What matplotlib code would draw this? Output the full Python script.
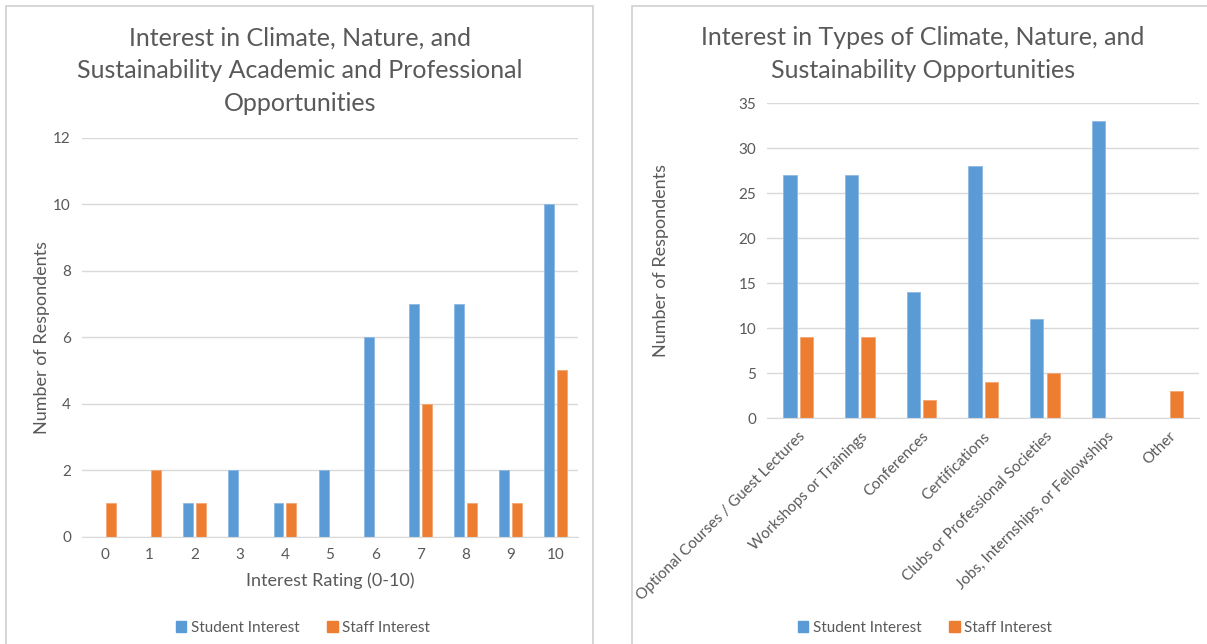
import numpy as np
import matplotlib.pyplot as plt
from matplotlib.patches import Rectangle, Patch

# Survey counts ------------------------------------------------------------
ratings = [str(i) for i in range(11)]
student_rating = [0, 0, 1, 2, 1, 2, 6, 7, 7, 2, 10]
staff_rating = [1, 2, 1, 0, 1, 0, 0, 4, 1, 1, 5]

opportunities = ["Optional Courses / Guest Lectures", "Workshops or Trainings",
                 "Conferences", "Certifications", "Clubs or Professional Societies",
                 "Jobs, Internships, or Fellowships", "Other"]
student_type = [27, 27, 14, 28, 11, 33, 0]
staff_type = [9, 9, 2, 4, 5, 0, 3]
# ---------------------------------------------------------------------------

BLUE = "#5B9BD5"
ORANGE = "#ED7D31"
TXT = "#595959"
GRID = "#D9D9D9"

plt.rcParams['font.family'] = ['Lato', 'DejaVu Sans']

W, H = 1207, 644
fig = plt.figure(figsize=(W / 100, H / 100), dpi=100)

def px(x0, y0, x1, y1):
    # pixel box (top-left origin) -> figure fraction rect
    return [x0 / W, 1 - y1 / H, (x1 - x0) / W, (y1 - y0) / H]

# chart frames
for x0, x1 in [(6, 593), (632, 1230)]:
    fig.patches.append(Rectangle((x0 / W, -0.05), (x1 - x0) / W, 1 - 6 / H + 0.05,
                                 transform=fig.transFigure, fill=False,
                                 edgecolor="#D0D0D0", lw=1.2))

def style(ax, ymax, ystep):
    ax.set_ylim(0, ymax)
    ax.set_yticks(np.arange(0, ymax + 1, ystep))
    ax.yaxis.grid(True, color=GRID, lw=1)
    ax.set_axisbelow(True)
    for s in ["top", "right", "left"]:
        ax.spines[s].set_visible(False)
    ax.spines["bottom"].set_color(GRID)
    ax.tick_params(length=0, colors=TXT, labelsize=11, pad=8)

def bars(ax, a, b, w, off):
    x = np.arange(len(a))
    ax.bar(x - off, a, w, color=BLUE, edgecolor="#8DB9E3", lw=0.6)
    ax.bar(x + off, b, w, color=ORANGE, edgecolor="#F4A673", lw=0.6)
    ax.set_xlim(-0.5, len(a) - 0.5)
    ax.set_xticks(x)

# left chart
ax1 = fig.add_axes(px(82, 137.7, 578, 536.7))
bars(ax1, student_rating, staff_rating, 0.22, 0.143)
style(ax1, 12, 2)
ax1.set_xticklabels(ratings)
ax1.set_xlabel("Interest Rating (0-10)", color=TXT, fontsize=13, labelpad=8)
ax1.set_ylabel("Number of Respondents", color=TXT, fontsize=13, labelpad=2)
fig.text(300 / W, 1 - 71 / H, "Interest in Climate, Nature, and\nSustainability Academic and Professional\nOpportunities",
         ha="center", va="center", fontsize=18, color=TXT, linespacing=1.5)

# right chart
ax2 = fig.add_axes(px(767.4, 103.3, 1199.2, 418.3))
bars(ax2, student_type, staff_type, 0.216, 0.133)
style(ax2, 35, 5)
ax2.set_xticklabels(opportunities, rotation=45, ha="right", rotation_mode="anchor")
ax2.set_ylabel("Number of Respondents", color=TXT, fontsize=13, labelpad=50)
fig.text(923 / W, 1 - 54 / H, "Interest in Types of Climate, Nature, and\nSustainability Opportunities",
         ha="center", va="center", fontsize=18, color=TXT, linespacing=1.5)

handles = [Patch(color=BLUE, label="Student Interest"), Patch(color=ORANGE, label="Staff Interest")]
for cx in [303, 925]:
    fig.legend(handles=handles, loc="center", bbox_to_anchor=(cx / W, 1 - 628 / H), ncol=2,
               frameon=False, fontsize=11, labelcolor=TXT, handlelength=0.7, handleheight=0.7,
               handletextpad=0.3, columnspacing=1.8)

fig.savefig("out.png", dpi=100)
